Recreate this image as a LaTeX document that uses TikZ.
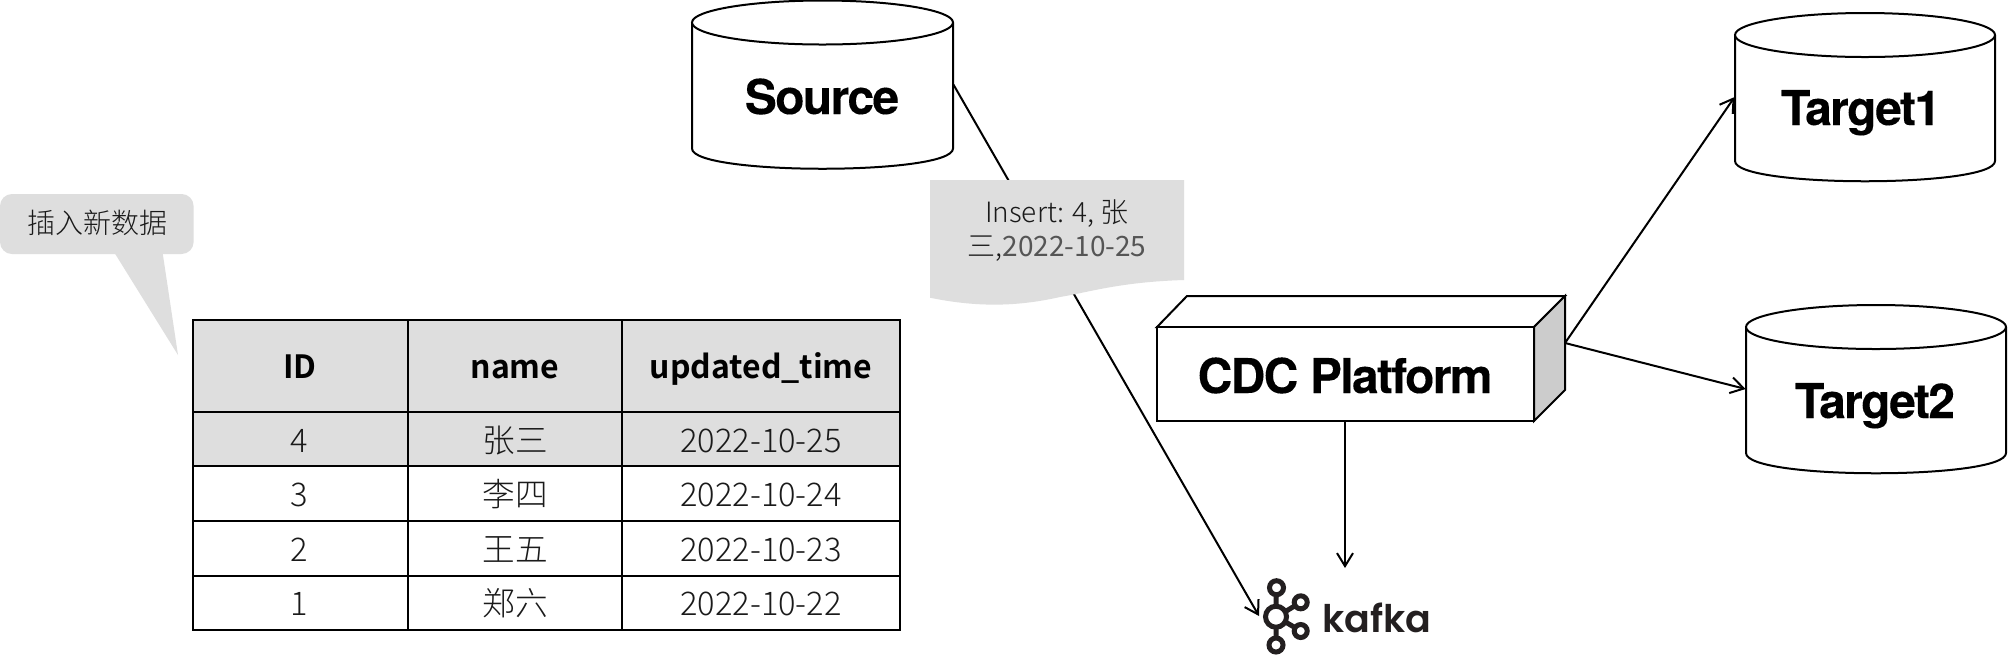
\documentclass[tikz,border=0pt]{standalone}
\usepackage{fontspec}
\usetikzlibrary{arrows.meta}
\setmainfont{Noto Sans CJK SC}[UprightFont=* Light,BoldFont=* Bold]
\newfontfamily\regfont{Noto Sans CJK SC}
\newfontfamily\headfont{TeX Gyre Heros}[UprightFont=* Bold,FakeBold=0.15,LetterSpace=-3.5]
\newfontfamily\kaffont{Poppins}[UprightFont=* SemiBold]
\definecolor{panel}{HTML}{DEDEDE}
\definecolor{sideface}{HTML}{CCCCCC}
\definecolor{ink}{HTML}{1A1A1A}
\definecolor{midink}{HTML}{555555}
\definecolor{kafkaink}{HTML}{231F20}
\tikzset{
  edge/.style={line width=1pt,black},
  conn/.style={edge,-{Straight Barb[length=6.5pt,width=8pt,line width=1pt]}},
  cellline/.style={line width=1pt,draw=black},
  celltext/.style={anchor=base,inner sep=0pt,font=\fontsize{16.3pt}{18pt}\selectfont,text=ink},
  headtext/.style={anchor=base,inner sep=0pt,font=\fontsize{16pt}{18pt}\selectfont\bfseries,text=black},
  bigtext/.style={anchor=base,inner sep=0pt,font=\fontsize{24pt}{26pt}\selectfont\headfont,text=black},
  kafkaring/.style={draw=kafkaink,line width=2.5pt},
}
% x y(top) width basex basey name text
\newcommand\dbcyl[7]{%
  \draw[edge,fill=white] (#1,#2+22) -- (#1,#2+148)
    .. controls (#1,#2+175) and (#1+#3,#2+175) .. (#1+#3,#2+148) -- (#1+#3,#2+22);
  \draw[edge,fill=white] ({#1+#3/2},#2+22) ellipse [x radius=#3/2,y radius=22];
  \node[inner sep=0pt,minimum width=#3*0.5pt,minimum height=84pt] (#6) at ({#1+#3/2},#2+84) {};
  \node[bigtext] (#6text) at (#4,#5) {#7};
}
% x1 y1 x2 y2 fill
\newcommand\cellbox[5]{\draw[cellline,fill=#5] (#1,#2) rectangle (#3,#4);}
\begin{document}
\begin{tikzpicture}[x=0.5pt,y=-0.5pt]
\useasboundingbox (0,0) rectangle (2008,666);
\fill[white] (0,0) rectangle (2008,666);

% callout
\fill[panel,rounded corners=6pt] (0,194) rectangle (193.6,254);
\fill[panel] (114,252) -- (162.5,252) -- (178,355) -- cycle;
\node[inner sep=0pt,font=\fontsize{14pt}{16pt}\selectfont,text=ink] (callout) at (97,223) {插入新数据};

% table
\cellbox{193}{319.5}{408}{412}{panel}
\cellbox{408}{319.5}{622}{412}{panel}
\cellbox{622}{319.5}{900}{412}{panel}
\cellbox{193}{412}{408}{466}{panel}
\cellbox{408}{412}{622}{466}{panel}
\cellbox{622}{412}{900}{466}{panel}
\cellbox{193}{466}{408}{521}{white}
\cellbox{408}{466}{622}{521}{white}
\cellbox{622}{466}{900}{521}{white}
\cellbox{193}{521}{408}{575.5}{white}
\cellbox{408}{521}{622}{575.5}{white}
\cellbox{622}{521}{900}{575.5}{white}
\cellbox{193}{575.5}{408}{629.5}{white}
\cellbox{408}{575.5}{622}{629.5}{white}
\cellbox{622}{575.5}{900}{629.5}{white}
\node[headtext] (hid) at (300,378) {ID};
\node[headtext] (hname) at (515,378) {name};
\node[headtext] (htime) at (761,378) {updated\_time};
\node[celltext] (a1) at (299,452) {4};
\node[celltext] (a2) at (515,452) {张三};
\node[celltext] (a3) at (761,452) {2022-10-25};
\node[celltext] (b1) at (299,506) {3};
\node[celltext] (b2) at (515,506) {李四};
\node[celltext] (b3) at (761,506) {2022-10-24};
\node[celltext] (c1) at (299,561) {2};
\node[celltext] (c2) at (515,561) {王五};
\node[celltext] (c3) at (761,561) {2022-10-23};
\node[celltext] (d1) at (299,615) {1};
\node[celltext] (d2) at (515,615) {郑六};
\node[celltext] (d3) at (761,615) {2022-10-22};

% cylinders
\dbcyl{692}{0.5}{261}{822}{114}{source}{Source}
\dbcyl{1735}{13}{260}{1861}{125}{targetone}{Target1}
\dbcyl{1746}{305}{260}{1875}{418}{targettwo}{Target2}

% cdc box
\draw[edge,fill=white] (1157,327) -- (1187,296) -- (1565,296) -- (1534,327) -- cycle;
\draw[edge,fill=sideface] (1534,327) -- (1565,296) -- (1565,390) -- (1534,421) -- cycle;
\draw[edge,fill=white] (1157,327) rectangle (1534,421);
\node[inner sep=0pt,minimum width=188.5pt,minimum height=47pt] (cdc) at (1345,374) {};
\node[bigtext] (cdctext) at (1345,393) {CDC Platform};
\coordinate (cdcside) at (1565,343);

% kafka
\coordinate (kafkain) at (1259,616);
\coordinate (kafkatop) at (1345,568);
\draw[kafkaring] (1276.5,587.7) circle [radius=7] (1276,616.7) circle [radius=10.5]
  (1276,645) circle [radius=7] (1300.7,602.3) circle [radius=6.5] (1300.7,631) circle [radius=6.5];
\draw[kafkaring] (1276.3,594.7) -- (1276,606.2) (1276,627.2) -- (1276,638)
  (1285.5,611.5) -- (1295,605.7) (1285.5,622) -- (1295,627.6);
\node[anchor=base west,inner sep=0pt,font=\fontsize{19pt}{22pt}\selectfont\kaffont,text=kafkaink] (kafka) at (1322,632) {kafka};

% connectors
\draw[conn] (source.east) -- (kafkain);
\draw[conn] (cdc.south) -- (kafkatop);
\draw[conn] (cdcside) -- (targetone.west);
\draw[conn] (cdcside) -- (targettwo.west);

% document note
\fill[panel] (930,180) -- (1184,180) -- (1184,280)
  .. controls (1120,282) and (1090,292) .. (1060,297)
  .. controls (1020,306) and (980,308) .. (930,297.7) -- cycle;
\node[inner sep=0pt,align=center,font=\fontsize{14pt}{17pt}\selectfont,text=ink] (note) at (1057,231)
  {Insert: 4, 张\\三,{\regfont\color{midink}2022-10-25}};
\end{tikzpicture}
\end{document}
